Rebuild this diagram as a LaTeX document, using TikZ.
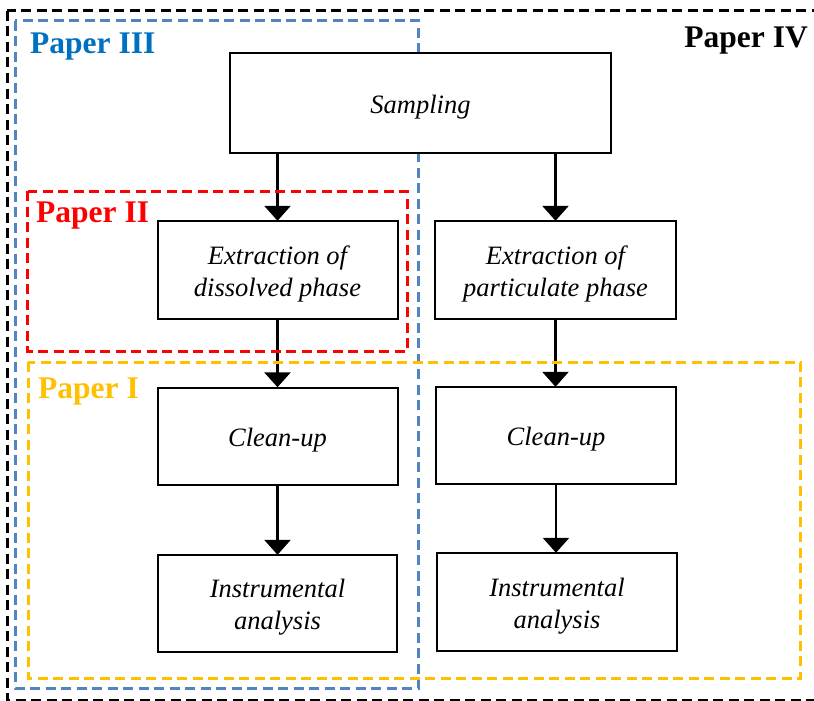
\documentclass[tikz,border=0pt]{standalone}
\usepackage{fontspec}
\setmainfont{Liberation Serif}
\usetikzlibrary{arrows.meta}

\definecolor{frameblue}{HTML}{5283C2}
\definecolor{textblue}{HTML}{0070C0}
\definecolor{paperred}{HTML}{FF0000}
\definecolor{paperyellow}{HTML}{FFC000}

\tikzset{
  stepbox/.style={draw=black, line width=2pt, fill=white, minimum height=98pt,
    inner sep=0pt},
  steptext/.style={align=center, inner sep=0pt, yshift=-4pt,
    font=\fontsize{26.5}{32}\selectfont\itshape},
  flow/.style={line width=2.8pt, -{Triangle[width=26pt,length=15pt]}},
  frame/.style={line width=3pt, dash pattern=on 10pt off 5.5pt},
  paperlabel/.style={font=\fontsize{31.5}{36}\selectfont\bfseries, inner sep=0pt}
}

\begin{document}
\begin{tikzpicture}[x=1pt, y=-1pt]
  \useasboundingbox (0,0) rectangle (814,701);
  \clip (0,0) rectangle (814,701);

  % centres of the process steps
  \path
    (420.5,103) coordinate (pSamp)
    (277.5,270) coordinate (pDis)
    (555.5,270) coordinate (pPart)
    (277.5,436) coordinate (pCleanL)
    (556.0,435.5) coordinate (pCleanR)
    (277.5,603.5) coordinate (pInstL)
    (557.0,602) coordinate (pInstR);

  % outlines of the steps, used to route the arrows
  \begin{scope}
    \node[minimum width=381pt, minimum height=100pt, inner sep=0pt] (sampA) at (pSamp) {};
    \node[minimum width=240pt, minimum height=98pt, inner sep=0pt] (disA) at (pDis) {};
    \node[minimum width=241pt, minimum height=98pt, inner sep=0pt] (partA) at (pPart) {};
    \node[minimum width=240pt, minimum height=97pt, inner sep=0pt] (cleanLA) at (pCleanL) {};
    \node[minimum width=240pt, minimum height=97pt, inner sep=0pt] (cleanRA) at (pCleanR) {};
    \node[minimum width=239pt, minimum height=97pt, inner sep=0pt] (instLA) at (pInstL) {};
    \node[minimum width=240pt, minimum height=98pt, inner sep=0pt] (instRA) at (pInstR) {};
  \end{scope}

  % arrows between the steps (frames are drawn over them)
  \draw[flow] (sampA.south -| disA.north) -- (disA.north);
  \draw[flow] (sampA.south -| partA.north) -- (partA.north);
  \draw[flow] (disA.south) -- (disA.south |- cleanLA.north);
  \draw[flow] (partA.south) -- (partA.south |- cleanRA.north);
  \draw[flow] (cleanLA.south) -- (cleanLA.south |- instLA.north);
  \draw[flow] (cleanRA.south) -- (cleanRA.south |- instRA.north);

  % paper frames
  \coordinate (k1) at (7,11);   \coordinate (k2) at (818,700);
  \coordinate (b1) at (15,21);  \coordinate (b2) at (418.5,688);
  \coordinate (r1) at (27.5,191); \coordinate (r2) at (407,351);
  \coordinate (y1) at (28,362); \coordinate (y2) at (800.5,678);
  \draw[frame, black] (k1) rectangle (k2);
  \draw[frame, frameblue] (b1) rectangle (b2);
  \draw[frame, paperred] (r1) rectangle (r2);
  \draw[frame, paperyellow] (y1) rectangle (y2);

  % frame labels
  \node[paperlabel, text=textblue, anchor=base west] (lIII) at (30,54) {Paper III};
  \node[paperlabel, text=black, anchor=base east] (lIV) at (808,48) {Paper IV};
  \node[paperlabel, text=paperred, anchor=base west] (lII) at (36,222) {Paper II};
  \node[paperlabel, text=paperyellow, anchor=base west] (lI) at (38,398) {Paper I};

  % step boxes
  \node[stepbox, minimum width=381pt, minimum height=100pt] (samp) at (pSamp) {};
  \node[stepbox, minimum width=240pt] (dis) at (pDis) {};
  \node[stepbox, minimum width=241pt] (part) at (pPart) {};
  \node[stepbox, minimum width=240pt, minimum height=97pt] (cleanL) at (pCleanL) {};
  \node[stepbox, minimum width=240pt, minimum height=97pt] (cleanR) at (pCleanR) {};
  \node[stepbox, minimum width=239pt, minimum height=97pt] (instL) at (pInstL) {};
  \node[stepbox, minimum width=240pt] (instR) at (pInstR) {};

  % step texts
  \node[steptext] (sampT) at (samp.center) {Sampling};
  \node[steptext] (disT) at (dis.center) {Extraction of\\dissolved phase};
  \node[steptext] (partT) at (part.center) {Extraction of\\particulate phase};
  \node[steptext] (cleanLT) at (cleanL.center) {Clean-up};
  \node[steptext] (cleanRT) at (cleanR.center) {Clean-up};
  \node[steptext] (instLT) at (instL.center) {Instrumental\\analysis};
  \node[steptext] (instRT) at (instR.center) {Instrumental\\analysis};
\end{tikzpicture}
\end{document}
